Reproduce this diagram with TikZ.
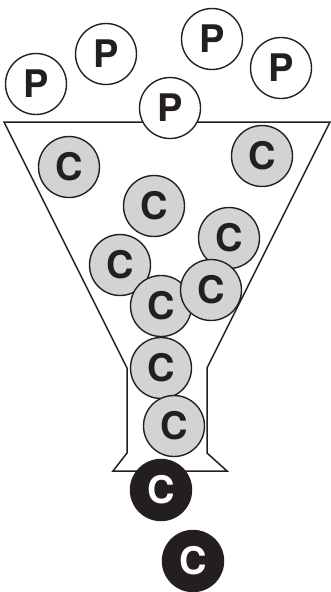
\documentclass[tikz,border=0pt]{standalone}
\usepackage{fontspec}
\setsansfont{TeX Gyre Heros}
\definecolor{cgris}{HTML}{D1D3D4}
\definecolor{cnegro}{HTML}{231F20}
\begin{document}
\begin{tikzpicture}[
  x=1pt, y=-1pt,
  bola/.style={circle, draw=cnegro, line width=1.4pt, minimum size=61pt, inner sep=0pt,
    font=\sffamily\bfseries\fontsize{38pt}{38pt}\selectfont},
  bolap/.style={bola, fill=white, text=cnegro},
  bolac/.style={bola, fill=cgris, text=cnegro},
  bolad/.style={bola, fill=cnegro, text=white},
  embudo/.style={draw=cnegro, line width=1.5pt, line join=miter}
]
\useasboundingbox (0,0) rectangle (331,592);
% embudo
\draw[embudo] (4,122) -- (330,122) -- (207,368) -- (207,453) -- (227,471)
  -- (113,471) -- (127,453) -- (127,368) -- cycle;
% bolas P
\node[bolap] (p1) at (36,84) {P};
\node[bolap] (p2) at (106,54) {P};
\node[bolap] (p3) at (212,39) {P};
\node[bolap] (p4) at (281,68) {P};
\node[bolap] (p5) at (170,108) {P};
% bolas C dentro
\node[bolac] (c1) at (69,167) {C};
\node[bolac] (c2) at (262,156) {C};
\node[bolac] (c3) at (154,206) {C};
\node[bolac] (c4) at (229,238) {C};
\node[bolac] (c5) at (120,265) {C};
\node[bolac] (c7) at (161,306) {C};
\node[bolac] (c6) at (211,290) {C};
\node[bolac] (c8) at (161,368) {C};
\node[bolac] (c9) at (174,426) {C};
% bolas C fuera
\node[bolad] (d1) at (161,490) {C};
\node[bolad] (d2) at (193,561) {C};
\end{tikzpicture}
\end{document}
